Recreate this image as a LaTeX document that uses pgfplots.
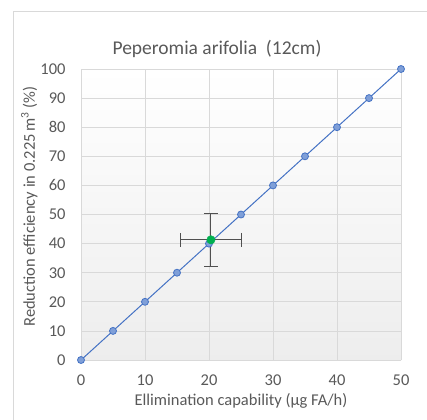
\documentclass[border=0pt]{standalone}
\usepackage{pgfplots}
\pgfplotsset{compat=1.18}
\usepackage{fontspec}
\setmainfont{Carlito}
\definecolor{txt}{HTML}{595959}
\definecolor{gridc}{HTML}{D9D9D9}
\definecolor{lineblue}{HTML}{4472C4}
\definecolor{markfill}{HTML}{7F9FD8}
\definecolor{ptgreen}{HTML}{00B050}
\definecolor{errc}{HTML}{505050}
\begin{document}
\begin{tikzpicture}[x=1bp,y=1bp]
\useasboundingbox (0,0) rectangle (427,-420);
% chart frame
\draw[gridc, line width=1bp] (13,-420) -- (13,-11) -- (427,-11);
\begin{axis}[
  at={(81bp,-360bp)}, anchor=south west,
  width=320bp, height=291bp, scale only axis,
  xmin=0, xmax=50, ymin=0, ymax=100,
  xtick={0,10,...,50}, ytick={0,10,...,100},
  grid=major,
  major grid style={gridc, line width=0.8bp},
  axis line style={draw=none},
  tick style={draw=none},
  axis background/.style={shade, top color=white, bottom color=black!7},
  ticklabel style={font=\fontsize{16.5bp}{18bp}\selectfont, text=txt},
  /pgf/number format/assume math mode=true,
  xticklabel style={yshift=-11bp},
  yticklabel style={xshift=-12bp},
  title={Peperomia arifolia\ \ (12cm)},
  title style={font=\fontsize{19.5bp}{22bp}\selectfont, text=txt,
    at={(0.425,1)}, anchor=south, yshift=2bp},
  xlabel={Ellimination capability (µg FA/h)},
  ylabel={Reduction efficiency in 0.225\,m\textsuperscript{3} (\%)},
  label style={font=\fontsize{16.5bp}{18bp}\selectfont, text=txt},
  xlabel style={yshift=-1bp},
  ylabel style={yshift=0bp, xshift=8bp, yshift=-4bp},
  clip=false,
]
\addplot[color=lineblue, line width=1bp, mark=*, mark size=3.5bp,
  mark options={fill=markfill, draw=lineblue, line width=0.8bp}]
  coordinates {(0,0) (5,10) (10,20) (15,30) (20,40) (25,50) (30,60) (35,70) (40,80) (45,90) (50,100)};
\addplot[only marks, mark=*, mark size=4.2bp,
  mark options={fill=ptgreen, draw=ptgreen},
  error bars/.cd, x dir=both, x explicit, y dir=both, y explicit,
  error bar style={errc, line width=1bp},
  error mark options={rotate=90, errc, line width=1bp, mark size=7bp}]
  coordinates {(20.3,41.3) +- (4.8,9.1)};
\end{axis}
\end{tikzpicture}
\end{document}
